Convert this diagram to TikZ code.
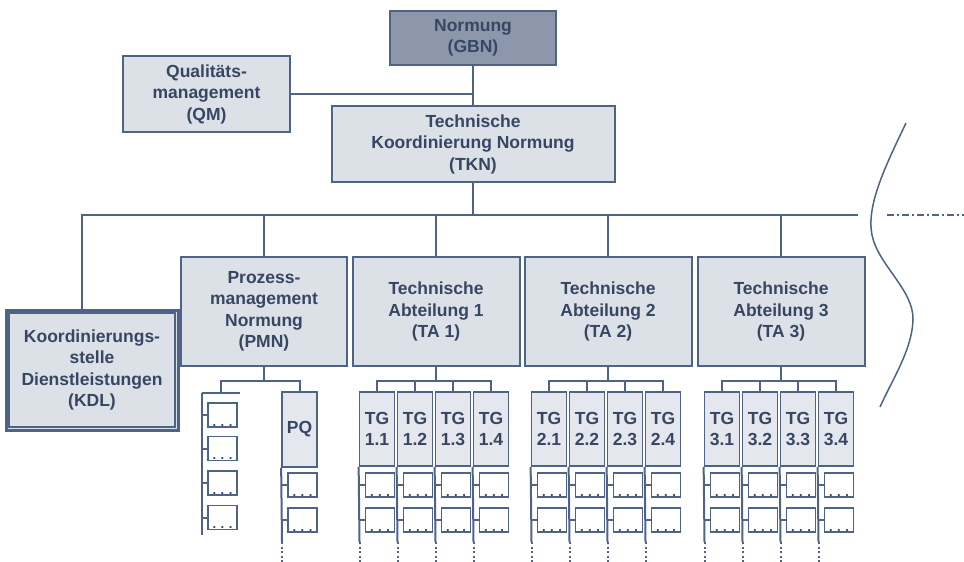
\documentclass[tikz,border=0pt]{standalone}
\usepackage{fontspec}
\setmainfont{Liberation Sans}
\usetikzlibrary{calc}

\definecolor{ln}{HTML}{4E6385}
\definecolor{bx}{HTML}{DCE0E7}
\definecolor{gbnfill}{HTML}{8C97AC}
\definecolor{txt}{HTML}{374763}
\definecolor{tgfill}{HTML}{E4E7ED}

\newcommand\dotsx{.\hspace{4.5pt}.\hspace{4.5pt}.}

\tikzset{
  box/.style={draw=ln, line width=2pt, fill=bx, align=center, inner sep=0pt},
  conn/.style={draw=ln, line width=2pt},
  dotline/.style={draw=ln, line width=2pt, dash pattern=on 2pt off 2.5pt},
  tgbox/.style={draw=ln, line width=1.7pt, fill=tgfill, minimum width=35pt, minimum height=74pt, align=center, inner sep=0pt},
  dotlbl/.style={anchor=south, inner sep=1.5pt, font=\fontsize{13}{13}\selectfont\bfseries, text=txt, label distance=0pt},
  subbox/.style={draw=ln, line width=1.7pt, fill=white, minimum width=29pt, minimum height=24pt, inner sep=0pt, label={[dotlbl]south:\dotsx}},
}

\begin{document}
\begin{tikzpicture}[x=1pt, y=-1pt, font=\fontsize{17.5}{21.5}\selectfont\bfseries, text=txt]
\useasboundingbox (0,0) rectangle (964,562);

% top level
\node[box, fill=gbnfill, minimum width=166pt, minimum height=54pt] (GBN) at (473,38) {Normung\\(GBN)};
\node[box, minimum width=167pt, minimum height=76pt] (QM) at (206.5,94) {Qualitäts-\\management\\(QM)};
\node[box, minimum width=283pt, minimum height=76pt] (TKN) at (473,144) {Technische\\Koordinierung Normung\\(TKN)};

\draw[conn] (GBN.south) -- (TKN.north);
\draw[conn] (QM.east) -- (QM.east -| GBN.south);

% second level
\node[box, line width=3pt, minimum width=172pt, minimum height=120pt] (KDL) at (92,370) {Koordinierungs-\\stelle\\Dienstleistungen\\(KDL)};
\draw[draw=ln, line width=1.3pt] ([shift={(4.5,4.5)}]KDL.north west) rectangle ([shift={(-4.5,-4.5)}]KDL.south east);

\node[box, minimum width=166pt, minimum height=109pt] (PMN) at (264,311.5) {Prozess-\\management\\Normung\\(PMN)};
\node[box, minimum width=167pt, minimum height=109pt] (ta1) at (436,311.5) {Technische\\Abteilung 1\\(TA 1)};
\node[box, minimum width=167pt, minimum height=109pt] (ta2) at (608,311.5) {Technische\\Abteilung 2\\(TA 2)};
\node[box, minimum width=167pt, minimum height=109pt] (ta3) at (781,311.5) {Technische\\Abteilung 3\\(TA 3)};

% bus
\coordinate (busL) at (82,215);
\coordinate (busR) at (858,215);
\draw[conn] (TKN.south) -- (TKN.south |- busL);
\draw[conn] (busL |- KDL.north) -- (busL) -- (busR);
\draw[conn] (PMN.north |- busL) -- (PMN.north);
\foreach \k in {1,2,3} {\draw[conn] (ta\k.north |- busL) -- (ta\k.north);}

% dash-dot continuation and brace curve
\coordinate (dd1) at (887,215);
\coordinate (dd2) at (964,215);
\draw[conn, dash pattern=on 7pt off 3pt on 2pt off 3pt] (dd1) -- (dd2);
\draw[draw=ln, line width=1.5pt] (906,123) .. controls (886,165) and (866,205) .. (872,235)
  .. controls (878,265) and (914,290) .. (913,320)
  .. controls (912,350) and (892,380) .. (880,407);

% PMN subtree
\coordinate (pb) at (PMN.south |- 0,381);
\draw[conn] (PMN.south) -- (pb);
\coordinate (barL) at (202,393);
\coordinate (barR) at (240,393);
\coordinate (barM) at (221,393);
\coordinate (pend) at (202,535);
\node[tgbox, minimum height=75pt] (PQ) at (299.5,429.5) {PQ};
\draw[conn] (barM) |- (PQ.north |- pb) -- (PQ.north);
\draw[conn] (barL) -- (barR);
\draw[conn] (barL) -- (pend);
\foreach \i/\y in {1/415, 2/448.5, 3/483, 4/517.5} {
  \node[subbox] (p\i) at (222.5,\y) {};
  \draw[conn] (p\i.west -| barL) -- (p\i.west);
}
\coordinate (pqe) at (282,542);
\coordinate (pqf) at (282,562);
\draw[conn] (PQ.south west) -- (pqe);
\draw[dotline] (pqe) -- (pqf);
\foreach \j/\y in {1/485, 2/520} {
  \node[subbox] (q\j) at (302.5,\y) {};
  \draw[conn] (q\j.west -| PQ.south west) -- (q\j.west);
}

% technical groups
\foreach \k/\L in {1/352.5, 2/524.5, 3/697.5} {
  \foreach \i in {1,...,4} {
    \pgfmathsetmacro\xl{\L+7+38*(\i-1)}
    \node[tgbox] (tg\k-\i) at (\xl+17.5,429) {TG\\\k.\i};
    \node[subbox] (s\k-\i-1) at (\xl+20.5,485) {};
    \node[subbox] (s\k-\i-2) at (\xl+20.5,520) {};
    \coordinate (e\k-\i) at (\xl,542);
    \coordinate (f\k-\i) at (\xl,562);
    \draw[conn] (tg\k-\i.south west) -- (e\k-\i);
    \draw[dotline] (e\k-\i) -- (f\k-\i);
    \draw[conn] (s\k-\i-1.west -| tg\k-\i.south west) -- (s\k-\i-1.west);
    \draw[conn] (s\k-\i-2.west -| tg\k-\i.south west) -- (s\k-\i-2.west);
  }
  \coordinate (b\k) at (ta\k.south |- 0,381);
  \draw[conn] (ta\k.south) -- (b\k);
  \draw[conn] (tg\k-1.north) |- (b\k) -| (tg\k-4.north);
  \draw[conn] (tg\k-2.north |- b\k) -- (tg\k-2.north);
  \draw[conn] (tg\k-3.north |- b\k) -- (tg\k-3.north);
}
\end{tikzpicture}
\end{document}
